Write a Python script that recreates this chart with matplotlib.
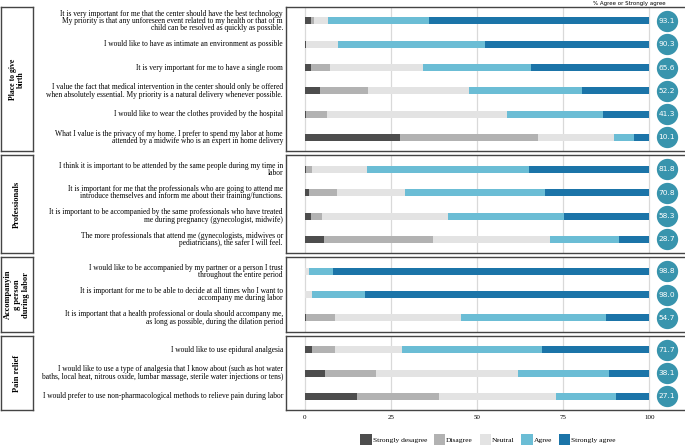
import matplotlib
matplotlib.use("Agg")
import matplotlib.pyplot as plt
from matplotlib.patches import Patch

# response categories and colours
cats = ["Strongly desagree", "Disagree", "Neutral", "Agree", "Strongly agree"]
colors = ["#4d4d4d", "#b2b2b2", "#e3e3e3", "#6bbdd5", "#1b74a8"]

groups = ["Place to give\nbirth", "Professionals", "Accompanyin\ng person\nduring labor", "Pain relief"]

labels_birth = [
    "It is very important for me that the center should have the best technology\nMy priority is that any unforeseen event related to my health or that of m\nchild can be resolved as quickly as possible.",
    "I would like to have as intimate an environment as possible",
    "It is very important for me to have a single room",
    "I value the fact that medical intervention in the center should only be offered\nwhen absolutely essential. My priority is a natural delivery whenever possible.",
    "I would like to wear the clothes provided by the hospital",
    "What I value is the privacy of my home. I prefer to spend my labor at home\nattended by a midwife who is an expert in home delivery",
]
vals_birth = [
    [1.7, 1.0, 4.2, 29.2, 63.9],
    [0.3, 0.2, 9.2, 42.6, 47.7],
    [1.7, 5.7, 27.0, 31.2, 34.4],
    [4.4, 13.9, 29.5, 32.8, 19.4],
    [0.3, 6.2, 52.2, 28.0, 13.3],
    [27.7, 39.9, 22.3, 5.7, 4.4],
]
agree_birth = [93.1, 90.3, 65.6, 52.2, 41.3, 10.1]

labels_prof = [
    "I think it is important to be attended by the same people during my time in\nlabor",
    "It is important for me that the professionals who are going to attend me\nintroduce themselves and inform me about their training/functions.",
    "It is important to be accompanied by the same professionals who have treated\nme during pregnancy (gynecologist, midwife)",
    "The more professionals that attend me (gynecologists, midwives or\npediatricians), the safer I will feel.",
]
vals_prof = [
    [0.4, 1.6, 16.2, 47.0, 34.8],
    [1.3, 8.0, 19.9, 40.5, 30.3],
    [1.7, 3.2, 36.8, 33.5, 24.8],
    [5.7, 31.6, 33.9, 20.0, 8.8],
]
agree_prof = [81.8, 70.8, 58.3, 28.7]

labels_acc = [
    "I would like to be accompanied by my partner or a person I trust\nthroughout the entire period",
    "It is important for me to be able to decide at all times who I want to\naccompany me during labor",
    "It is important that a health professional or doula should accompany me,\nas long as possible, during the dilation period",
]
vals_acc = [
    [0.0, 0.0, 1.2, 6.9, 91.9],
    [0.0, 0.0, 2.0, 15.5, 82.5],
    [0.4, 8.5, 36.4, 42.1, 12.6],
]
agree_acc = [98.8, 98.0, 54.7]

labels_pain = [
    "I would like to use epidural analgesia",
    "I would like to use a type of analgesia that I know about (such as hot water\nbaths, local heat, nitrous oxide, lumbar massage, sterile water injections or tens)",
    "I would prefer to use non-pharmacological methods to relieve pain during labor",
]
vals_pain = [
    [2.1, 6.8, 19.4, 40.6, 31.1],
    [5.8, 14.9, 41.2, 26.4, 11.7],
    [15.1, 23.9, 33.8, 17.4, 9.7],
]
agree_pain = [71.7, 38.1, 27.1]

xticks = [0, 25, 50, 75, 100]

panels = [
    (groups[0], labels_birth, vals_birth, agree_birth),
    (groups[1], labels_prof, vals_prof, agree_prof),
    (groups[2], labels_acc, vals_acc, agree_acc),
    (groups[3], labels_pain, vals_pain, agree_pain),
]
group_fs = [5.6, 6.0, 6.0, 6.0]

W, H = 685, 445
fig = plt.figure(figsize=(W / 100, H / 100), dpi=100)
serif = "Liberation Serif"

row_px = 23.3
x0_px, x100_px = 304.7, 649.3
ppu = (x100_px - x0_px) / 100.0
ax_left, ax_right = 286, 687
xlo = (ax_left - x0_px) / ppu
xhi = (ax_right - x0_px) / ppu

top = 7
for gi, (gname, labels, vals, agree) in enumerate(panels):
    n = len(labels)
    h = (n - 1 + 1.2) * row_px
    ybot = H - (top + h)
    ax = fig.add_axes([ax_left / W, ybot / H, (ax_right - ax_left) / W, h / H])
    ax.set_xlim(xlo, xhi)
    ax.set_ylim(n - 1 + 0.6, -0.6)
    for xv in xticks:
        ax.axvline(xv, color="#d9d9d9", lw=0.9, zorder=0)
    for i in range(n):
        left = 0
        for k in range(5):
            ax.barh(i, vals[i][k], left=left, height=0.3, color=colors[k], zorder=2)
            left += vals[i][k]
        ax.text(-6.3, i, labels[i], ha="right", va="center", family=serif,
                fontsize=5.45, linespacing=0.9, clip_on=False)
    ax.scatter([105] * n, range(n), s=205, color="#3894ad", zorder=3, clip_on=False)
    for i in range(n):
        ax.text(105, i, f"{agree[i]:.1f}", ha="center", va="center", color="white",
                fontsize=5.4, zorder=4)
    for sp in ax.spines.values():
        sp.set_color("#444444")
        sp.set_linewidth(1.0)
    ax.set_yticks([])
    if gi == len(panels) - 1:
        ax.set_xticks(xticks)
        ax.tick_params(axis="x", length=0, pad=3, labelsize=5)
        for t in ax.get_xticklabels():
            t.set_family(serif)
    else:
        ax.set_xticks([])

    gax = fig.add_axes([1 / W, ybot / H, 32 / W, h / H])
    gax.set_xticks([])
    gax.set_yticks([])
    for sp in gax.spines.values():
        sp.set_color("#444444")
        sp.set_linewidth(1.0)
    gax.text(0.5, 0.5, gname, rotation=90, ha="center", va="center", family=serif,
             fontweight="bold", fontsize=group_fs[gi], linespacing=1.1,
             transform=gax.transAxes, clip_on=True)

    top = top + h + 4

fig.text(666 / W, 1 - 3.5 / H, "% Agree or Strongly agree", ha="right", va="center",
         fontsize=4.0)

handles = [Patch(facecolor=c, edgecolor="none") for c in colors]
leg = fig.legend(handles, cats, loc="center", bbox_to_anchor=(488 / W, 1 - 440 / H),
                 ncol=5, frameon=False, handlelength=1.5, handleheight=1.9,
                 handletextpad=0.15, columnspacing=0.9, prop={"family": serif, "size": 5.4})

fig.savefig("out.png", dpi=100)
